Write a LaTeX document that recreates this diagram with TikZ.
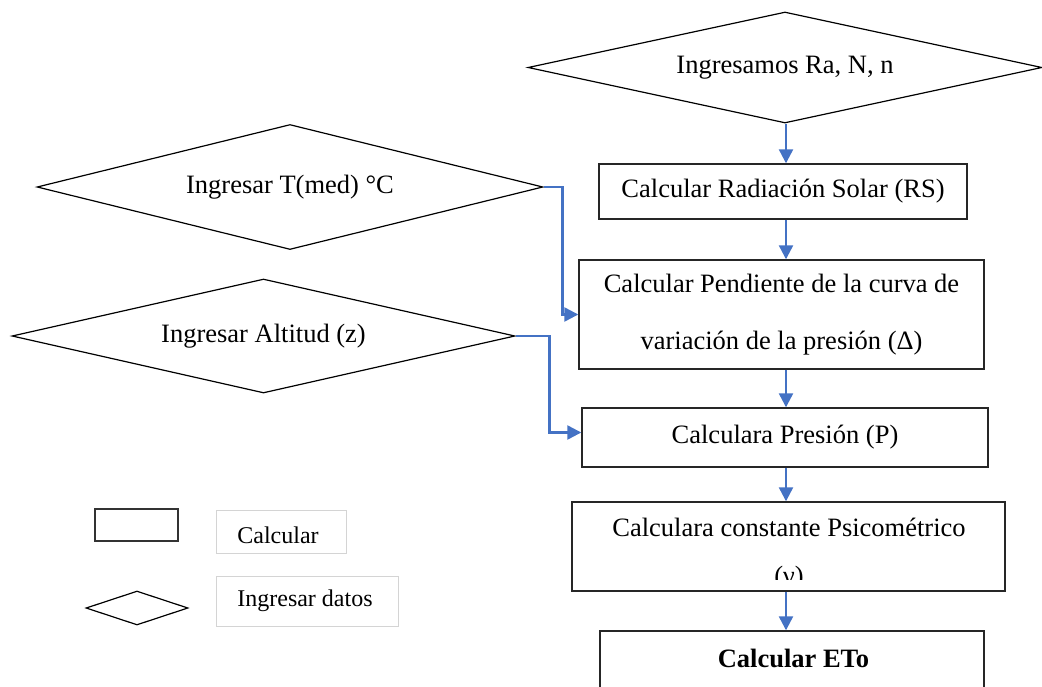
\documentclass[tikz,border=0pt]{standalone}
\usepackage{fontspec}
\setmainfont{Liberation Serif}
\usetikzlibrary{shapes.geometric,arrows.meta,calc}
\definecolor{flowblue}{HTML}{4472C4}
\definecolor{legendgray}{HTML}{D4D4D4}
\newcommand{\mainsize}{\fontsize{26.5}{57}\selectfont}
\newcommand{\legsize}{\fontsize{24}{28}\selectfont}
\begin{document}
\begin{tikzpicture}[x=1pt,y=-1pt,
  stepbox/.style={rectangle, draw=black!85, line width=1.4pt, inner sep=0pt, font=\mainsize, align=center},
  inputdia/.style={diamond, draw=black, line width=1.2pt, aspect=4, inner sep=0pt, font=\mainsize},
  flowarrow/.style={draw=flowblue, line width=2.3pt, -{Triangle[length=14pt,width=14pt]}},
  legbox/.style={rectangle, draw=legendgray, line width=1pt, inner sep=0pt, font=\legsize}]
\useasboundingbox (0,0) rectangle (1042,686);

% input diamonds
\node[inputdia, minimum width=514, minimum height=111] (ra) at (785,67.5) {Ingresamos Ra, N, n};
\node[inputdia, minimum width=506, minimum height=125] (tmed) at (290,187) {Ingresar T(med) °C};
\node[inputdia, minimum width=503, minimum height=114] (alt) at (263.5,336) {Ingresar Altitud (z)};

% calculation steps
\node[stepbox, minimum width=368, minimum height=55] (rs) at (783,191.5) {Calcular Radiación Solar (RS)};
\node[stepbox, minimum width=405, minimum height=109] (pend) at (781.5,314.5) {Calcular Pendiente de la curva de\\variación de la presión (Δ)};
\node[stepbox, minimum width=406, minimum height=59] (pres) at (785,437.5) {Calculara Presión (P)};
\node[stepbox, minimum width=433, minimum height=89] (psi) at (788.5,546.5) {};
\begin{scope}
  \clip (572,502) rectangle (1005,579);
  \node[font=\fontsize{26.5}{48}\selectfont, align=center, inner sep=0pt] (psitext) at (789,554) {Calculara constante Psicométrico\\(γ)};
\end{scope}
\node[stepbox, minimum width=384, minimum height=70] (eto) at (792,666) {};
\node[font=\mainsize\bfseries, inner sep=0pt] (etotext) at (793.5,658) {Calcular ETo};

% main flow axis
\coordinate (axis) at (786,0);
\draw[flowarrow] (ra.south -| axis) -- (rs.north -| axis);
\draw[flowarrow] (rs.south -| axis) -- (pend.north -| axis);
\draw[flowarrow] (pend.south -| axis) -- (pres.north -| axis);
\draw[flowarrow] (pres.south -| axis) -- (psi.north -| axis);
\draw[flowarrow] (psi.south -| axis) -- (eto.north -| axis);

% side inputs
\draw[flowarrow] (tmed.east) -- ++(19,0) |- (pend.west);
\draw[flowarrow] (alt.east) -- ++(34,0) |- ($(pres.west)+(0,-5)$);

% legend
\node[rectangle, draw=black!80, line width=1.5pt, minimum width=83, minimum height=32, inner sep=0pt] (legrect) at (136.5,525) {};
\node[legbox, minimum width=130, minimum height=43] (legcalc) at (281,531.5) {};
\node[font=\legsize, inner sep=0pt] (legcalctext) at (278,535) {Calcular};
\node[diamond, draw=black, line width=1.2pt, minimum width=102, minimum height=34, inner sep=0pt] (legdia) at (137,608) {};
\node[legbox, minimum width=182, minimum height=50] (legdata) at (307,601) {};
\node[font=\legsize, inner sep=0pt] (legdatatext) at (305,601) {Ingresar datos};
\end{tikzpicture}
\end{document}
